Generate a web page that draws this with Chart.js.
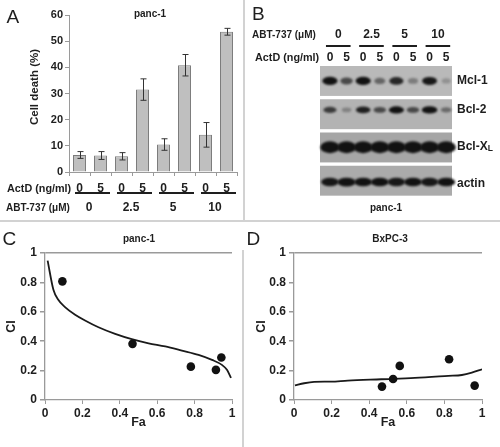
<!DOCTYPE html>
<html><head><meta charset="utf-8">
<script src="https://cdn.jsdelivr.net/npm/chart.js@4.4.1/dist/chart.umd.min.js"></script>
<style>
html,body{margin:0;padding:0;background:#fff;}
body{width:500px;height:447px;position:relative;overflow:hidden;font-family:"Liberation Sans",Arial,sans-serif;color:#1e1e1e;}
.t{position:absolute;white-space:nowrap;line-height:1;}
.box{position:absolute;}
.sep{position:absolute;background:#d2d2d2;}
</style></head><body>
<div class="sep" style="left:0;top:220px;width:500px;height:2px"></div>
<div class="sep" style="left:243px;top:0;width:2px;height:221px"></div>
<div class="sep" style="left:242px;top:250px;width:2px;height:197px"></div>
<div class="box" style="left:0;top:0"><canvas id="cA" width="244" height="218"></canvas></div>
<div class="box" style="left:250px;top:20px"><canvas id="cB" width="250" height="200"></canvas></div>
<div class="box" style="left:0;top:222px"><canvas id="cC" width="243" height="225"></canvas></div>
<div class="box" style="left:245px;top:222px"><canvas id="cD" width="255" height="225"></canvas></div>
<script>
// ---------------- data ----------------
// Panel A: cell death of panc-1
const actdLabels = ['0','5','0','5','0','5','0','5'];
const abtGroupLabels = ['0','2.5','5','10'];
const cellDeath = [6.5, 6.3, 6.0, 31.5, 10.5, 40.8, 14.2, 53.6];
const cellDeathErr = [1.3, 1.5, 1.4, 4.1, 2.2, 4.1, 4.7, 1.3];

// Panel B: western blot (band darkness 0..1 per lane)
const blotLaneLabels = ['0','5','0','5','0','5','0','5'];
const blotGroupLabels = ['0','2.5','5','10'];
const blotProteins = ['Mcl-1','Bcl-2','Bcl-XL','actin'];
const bandMcl1  = [0.95, 0.55, 0.95, 0.35, 0.8, 0.2, 0.9, 0.04];
const bandBcl2  = [0.65, 0.12, 0.85, 0.55, 0.95, 0.55, 1.0, 0.3];
const bandBclXL = [1.0, 1.0, 1.0, 1.0, 1.0, 1.0, 1.0, 1.0];
const bandActin = [0.9, 1.0, 0.95, 0.95, 0.9, 0.95, 0.9, 0.95];

// Panel C: panc-1 combination index
const cCurveFa = [0.014, 0.045, 0.071, 0.107, 0.161, 0.214, 0.286, 0.375, 0.464, 0.554, 0.643, 0.732, 0.821, 0.893, 0.946, 0.973, 0.995];
const cCurveCI = [0.948, 0.75, 0.682, 0.632, 0.58, 0.541, 0.495, 0.45, 0.414, 0.386, 0.364, 0.336, 0.307, 0.273, 0.239, 0.205, 0.15];
const cPointFa = [0.093, 0.468, 0.78, 0.914, 0.943];
const cPointCI = [0.807, 0.382, 0.227, 0.205, 0.289];

// Panel D: BxPC-3 combination index
const dCurveFa = [0.005, 0.054, 0.107, 0.196, 0.286, 0.464, 0.643, 0.821, 0.893, 0.946, 1.0];
const dCurveCI = [0.1, 0.114, 0.123, 0.125, 0.132, 0.141, 0.15, 0.164, 0.17, 0.186, 0.209];
const dPointFa = [0.468, 0.527, 0.5625, 0.825, 0.961];
const dPointCI = [0.091, 0.143, 0.232, 0.277, 0.098];

// ---------------- style ----------------
const FONT = '"Liberation Sans", Arial, sans-serif';
const TXT = '#1e1e1e';
const AXIS = '#9a9a9a';
Chart.defaults.font.family = FONT;
Chart.defaults.color = TXT;

function txt(s, x, cy, size, bold, center, rot) {
  const d = document.createElement('div');
  d.className = 't';
  d.textContent = s;
  d.style.fontSize = size + 'px';
  d.style.fontWeight = bold ? 'bold' : 'normal';
  if (rot) {
    d.style.left = x + 'px'; d.style.top = cy + 'px';
    d.style.transform = 'translate(-50%,-50%) rotate(-90deg)';
  } else {
    d.style.top = (cy - 0.49 * size) + 'px';
    d.style.left = x + 'px';
    if (center) d.style.transform = 'translateX(-50%)';
  }
  document.body.appendChild(d);
}
txt('A', 6.5, 16.3, 19, false);
txt('B', 252, 13.5, 19, false);
txt('C', 2.5, 238.3, 19, false);
txt('D', 246.5, 238.3, 19, false);
txt('panc-1', 150, 14, 10, true, true);
txt('Cell death (%)', 35, 87, 11.5, true, false, true);
txt('ActD (ng/ml)', 7, 188, 10.8, true);
txt('ABT-737 (\u03bcM)', 6, 208, 10, true);
txt('panc-1', 139, 239, 10, true, true);
txt('BxPC-3', 390, 239, 10, true, true);

const base = { responsive: false, animation: false, events: [],
  plugins: { legend: { display: false }, tooltip: { enabled: false } } };
const fmt = v => String(Math.round(v * 10) / 10);

// ---------------- Panel A ----------------
const errorBars = {
  id: 'errorBars',
  afterDatasetsDraw(chart) {
    const { ctx } = chart; const y = chart.scales.y;
    const meta = chart.getDatasetMeta(0);
    ctx.save(); ctx.strokeStyle = '#333'; ctx.lineWidth = 1;
    meta.data.forEach((bar, i) => {
      const v = cellDeath[i], e = cellDeathErr[i];
      const yt = y.getPixelForValue(v + e), yb = y.getPixelForValue(v - e);
      const x = Math.round(bar.x) + 0.5;
      ctx.beginPath();
      ctx.moveTo(x, yt); ctx.lineTo(x, yb);
      ctx.moveTo(x - 3, yt); ctx.lineTo(x + 3, yt);
      ctx.moveTo(x - 3, yb); ctx.lineTo(x + 3, yb);
      ctx.stroke();
    });
    ctx.restore();
  }
};
const groupRows = {
  id: 'groupRows',
  afterDraw(chart) {
    const { ctx, chartArea: ca } = chart; const x = chart.scales.x;
    const cw = x.width / actdLabels.length;
    ctx.save();
    ctx.fillStyle = '#1e1e1e';
    ctx.font = 'bold 12px ' + FONT;
    ctx.textAlign = 'center'; ctx.textBaseline = 'middle';
    abtGroupLabels.forEach((g, i) => {
      const l = x.left + 2 * i * cw, r = l + 2 * cw;
      ctx.fillRect(l + 6, ca.bottom + 20, r - l - 7, 2);
      ctx.fillText(g, (l + r) / 2 - 1, ca.bottom + 36);
    });
    ctx.restore();
  }
};
new Chart(document.getElementById('cA'), {
  type: 'bar',
  data: { labels: actdLabels, datasets: [{ data: cellDeath, backgroundColor: '#bfbfbf', borderColor: '#7c7c7c',
    borderWidth: 1, barPercentage: 0.62, categoryPercentage: 1 }] },
  options: Object.assign({}, base, {
    layout: { padding: { top: 15, right: 7, left: 0, bottom: 0 } },
    scales: {
      x: { grid: { color: 'transparent', tickColor: AXIS, tickLength: 4, offset: true },
           border: { color: AXIS, width: 1 },
           ticks: { color: TXT, font: { size: 12, weight: 'bold' }, padding: 5, maxRotation: 0, autoSkip: false },
           afterFit: s => { s.height = 46; } },
      y: { min: 0, max: 60,
           ticks: { stepSize: 10, color: TXT, font: { size: 11, weight: 'bold' }, padding: 2 },
           grid: { color: 'transparent', tickColor: AXIS, tickLength: 4 },
           border: { color: AXIS, width: 1 },
           afterFit: s => { s.width = 69; } }
    }
  }),
  plugins: [errorBars, groupRows]
});

// ---------------- Panel B ----------------
const bandIntensity = [bandMcl1, bandBcl2, bandBclXL, bandActin];
const bandStyle = [
  { off: 0.48, rx: 7.8, ry: 4.2 },
  { off: 0.35, rx: 7.8, ry: 3.6 },
  { off: 0.47, rx: 9.6, ry: 6.0 },
  { off: 0.52, rx: 9.2, ry: 4.4 }
];
const stripColors = ['#b9b9b9', '#b3b3b3', '#a6a6a6', '#ababab'];
const blotPlugin = {
  id: 'blot',
  beforeDatasetsDraw(chart) {
    const { ctx, chartArea: ca, scales: { y } } = chart;
    ctx.save();
    blotProteins.forEach((p, r) => {
      const y0 = y.getPixelForValue(r + 0.03), y1 = y.getPixelForValue(r + 0.93);
      ctx.fillStyle = stripColors[r];
      ctx.fillRect(ca.left, y0, ca.right - ca.left, y1 - y0);
    });
    ctx.restore();
  },
  afterDatasetsDraw(chart) {
    const { ctx } = chart;
    ctx.save();
    ctx.filter = 'blur(1.2px)';
    chart.data.datasets.forEach((ds, r) => {
      const meta = chart.getDatasetMeta(r); const st = bandStyle[r];
      meta.data.forEach((pt, i) => {
        const k = bandIntensity[r][i];
        if (k < 0.03) return;
        ctx.fillStyle = 'rgba(18,18,18,' + Math.min(1, 0.2 + 0.85 * k) + ')';
        ctx.beginPath();
        ctx.ellipse(pt.x, pt.y, st.rx * (0.55 + 0.45 * k), st.ry * (0.6 + 0.4 * k), 0, 0, Math.PI * 2);
        ctx.fill();
      });
    });
    ctx.restore();
  },
  afterDraw(chart) {
    const { ctx, chartArea: ca, scales: { x } } = chart;
    ctx.save();
    ctx.fillStyle = TXT; ctx.textBaseline = 'middle';
    ctx.font = 'bold 10px ' + FONT; ctx.textAlign = 'left';
    ctx.fillText('ABT-737 (\u03bcM)', 2, ca.top - 30);
    ctx.font = 'bold 10.8px ' + FONT;
    ctx.fillText('ActD (ng/ml)', 5, ca.top - 7);
    ctx.font = 'bold 12px ' + FONT; ctx.textAlign = 'center';
    blotGroupLabels.forEach((g, i) => {
      const l = x.getPixelForValue(2 * i), r = x.getPixelForValue(2 * i + 1);
      ctx.fillText(g, (l + r) / 2, ca.top - 30);
      ctx.fillRect(l - 4, ca.top - 20, r - l + 8, 2);
    });
    blotLaneLabels.forEach((s, i) => ctx.fillText(s, x.getPixelForValue(i), ca.top - 7));
    ctx.textAlign = 'left';
    chart.data.datasets.forEach((ds, r) => {
      const yy = chart.getDatasetMeta(r).data[0].y + (r === 3 ? 2 : 0);
      const name = blotProteins[r];
      ctx.font = 'bold 12px ' + FONT;
      if (name === 'Bcl-XL') {
        ctx.fillText('Bcl-X', ca.right + 5, yy);
        const w = ctx.measureText('Bcl-X').width;
        ctx.font = 'bold 8.5px ' + FONT;
        ctx.textBaseline = 'alphabetic';
        ctx.fillText('L', ca.right + 5 + w, yy + 4.3);
        ctx.textBaseline = 'middle';
      } else {
        ctx.fillText(name, ca.right + 5, yy);
      }
    });
    ctx.font = 'bold 10px ' + FONT; ctx.textAlign = 'center';
    ctx.fillText('panc-1', (ca.left + ca.right) / 2, ca.bottom + 10);
    ctx.restore();
  }
};
new Chart(document.getElementById('cB'), {
  type: 'scatter',
  data: { datasets: blotProteins.map((p, r) => ({
    label: p,
    data: blotLaneLabels.map((l, i) => ({ x: i, y: r + bandStyle[r].off })),
    pointRadius: 0
  })) },
  options: Object.assign({}, base, {
    layout: { padding: { left: 70, right: 48, top: 45, bottom: 22 } },
    scales: {
      x: { type: 'linear', display: false, min: -0.6, max: 7.35 },
      y: { type: 'linear', display: false, min: 0, max: 4, reverse: true }
    }
  }),
  plugins: [blotPlugin]
});

// ---------------- Panels C & D ----------------
function ciChart(id, curveFa, curveCI, ptFa, ptCI, geo) {
  new Chart(document.getElementById(id), {
    type: 'scatter',
    data: { datasets: [
      { data: ptFa.map((v, i) => ({ x: v, y: ptCI[i] })), pointRadius: 4.3, pointBackgroundColor: '#111',
        pointBorderWidth: 0, order: 0 },
      { data: curveFa.map((v, i) => ({ x: v, y: curveCI[i] })), showLine: true, pointRadius: 0,
        borderColor: '#1a1a1a', borderWidth: 1.8, cubicInterpolationMode: 'monotone', order: 1 }
    ] },
    options: Object.assign({}, base, {
      layout: { padding: { top: 31, right: geo.pr, left: 0, bottom: 0 } },
      scales: {
        x: { type: 'linear', min: 0, max: 1,
             ticks: { stepSize: 0.2, color: TXT, font: { size: 12, weight: 'bold' }, padding: 2, maxRotation: 0, callback: fmt },
             grid: { color: 'transparent', tickColor: AXIS, tickLength: 4 },
             border: { color: AXIS, width: 1.3 },
             title: { display: true, text: 'Fa', color: TXT, font: { size: 12.5, weight: 'bold' }, padding: { top: 0, bottom: 17 } },
             afterFit: s => { s.height = 47; } },
        y: { type: 'linear', min: 0, max: 1,
             ticks: { stepSize: 0.2, color: TXT, font: { size: 12, weight: 'bold' }, padding: 3, callback: fmt },
             grid: { color: c => (c.tick && Math.abs(c.tick.value - 1) < 1e-6) ? AXIS : 'transparent',
                     lineWidth: 1.5, tickColor: AXIS, tickLength: 5 },
             border: { color: AXIS, width: 1.3 },
             title: { display: true, text: 'CI', color: TXT, font: { size: 12.5, weight: 'bold' }, padding: { top: geo.ytp, bottom: 0 } },
             afterFit: s => { s.width = geo.yw; } }
      }
    })
  });
}
ciChart('cC', cCurveFa, cCurveCI, cPointFa, cPointCI, { yw: 45, pr: 11, ytp: 4.2 });
ciChart('cD', dCurveFa, dCurveCI, dPointFa, dPointCI, { yw: 49, pr: 18, ytp: 9.2 });
</script>
</body></html>
